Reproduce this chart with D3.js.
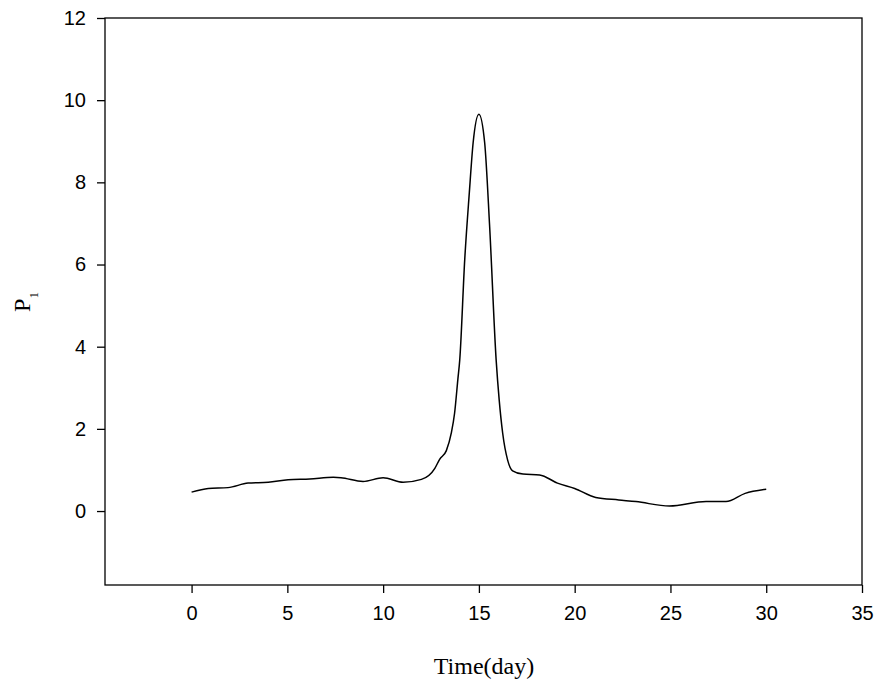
<!DOCTYPE html>
<html>
<head>
<meta charset="utf-8">
<script src="https://cdn.jsdelivr.net/npm/d3@7"></script>
<style>
  body { margin: 0; background: #fff; }
  .tick text { font-family: "Liberation Sans", Arial, sans-serif; font-size: 20px; fill: #000; }
</style>
</head>
<body>
<div id="chart"></div>
<script>
// values
var days = [0, 0.87, 1.9, 2.95, 4.0, 5.04, 6.17, 7.4, 7.8, 8.95, 10.0, 11.04, 12.0, 12.7, 12.95, 13.3, 13.56, 13.73, 13.9,
            14.0, 14.26, 14.5, 14.7, 15.0, 15.3, 15.56, 15.9, 16.06, 16.24, 16.5, 16.76, 17.3, 18.17, 19.1, 20.0,
            21.1, 22.3, 23.2, 24.95, 26.86, 27.9, 28.9, 30.0];
var p1 = [0.46, 0.55, 0.57, 0.68, 0.70, 0.76, 0.78, 0.82, 0.81, 0.72, 0.81, 0.70, 0.77, 1.04, 1.26, 1.47, 1.9, 2.38, 3.2,
          3.68, 6.12, 7.75, 8.97, 9.66, 8.97, 6.93, 3.68, 2.7, 1.9, 1.24, 0.98, 0.90, 0.88, 0.68, 0.55,
          0.33, 0.27, 0.23, 0.12, 0.23, 0.23, 0.43, 0.53];
var xTicks = [0, 5, 10, 15, 20, 25, 30, 35];
var yTicks = [0, 2, 4, 6, 8, 10, 12];

var width = 880, height = 686;
var margin = { left: 105, right: 18, top: 18, bottom: 101 };

var svg = d3.select('#chart').append('svg')
    .attr('width', width)
    .attr('height', height);

var x = d3.scaleLinear().domain([-4.52, 35]).range([margin.left, width - margin.right]);
var y = d3.scaleLinear().domain([-1.8, 12]).range([height - margin.bottom, margin.top]);

// frame
svg.append('rect')
    .attr('x', margin.left)
    .attr('y', margin.top)
    .attr('width', width - margin.right - margin.left)
    .attr('height', height - margin.bottom - margin.top)
    .attr('fill', 'none')
    .attr('stroke', '#000')
    .attr('stroke-width', 1.3);

var xAxis = svg.append('g')
    .attr('transform', 'translate(0,' + (height - margin.bottom) + ')')
    .call(d3.axisBottom(x).tickValues(xTicks).tickSize(8).tickPadding(13).tickSizeOuter(0));
xAxis.select('.domain').remove();

var yAxis = svg.append('g')
    .attr('transform', 'translate(' + margin.left + ',0)')
    .call(d3.axisLeft(y).tickValues(yTicks).tickSize(8).tickPadding(11).tickSizeOuter(0));
yAxis.select('.domain').remove();

svg.selectAll('.tick line').attr('stroke', '#000').attr('stroke-width', 1.3);

var line = d3.line()
    .x(function(d, i) { return x(days[i]); })
    .y(function(d) { return y(d); })
    .curve(d3.curveMonotoneX);

svg.append('path')
    .datum(p1)
    .attr('fill', 'none')
    .attr('stroke', '#000')
    .attr('stroke-width', 1.5)
    .attr('d', line);

// axis titles
svg.append('text')
    .attr('x', 484)
    .attr('y', 674)
    .attr('text-anchor', 'middle')
    .style('font-family', '"Liberation Serif", "Times New Roman", serif')
    .style('font-size', '24px')
    .text('Time(day)');

var yt = svg.append('text')
    .attr('transform', 'translate(30,302) rotate(-90)')
    .attr('text-anchor', 'middle')
    .style('font-family', '"Liberation Serif", "Times New Roman", serif')
    .style('font-size', '24px');
yt.append('tspan').text('P');
yt.append('tspan').attr('dy', 8).style('font-size', '13px').text('1');
</script>
</body>
</html>
